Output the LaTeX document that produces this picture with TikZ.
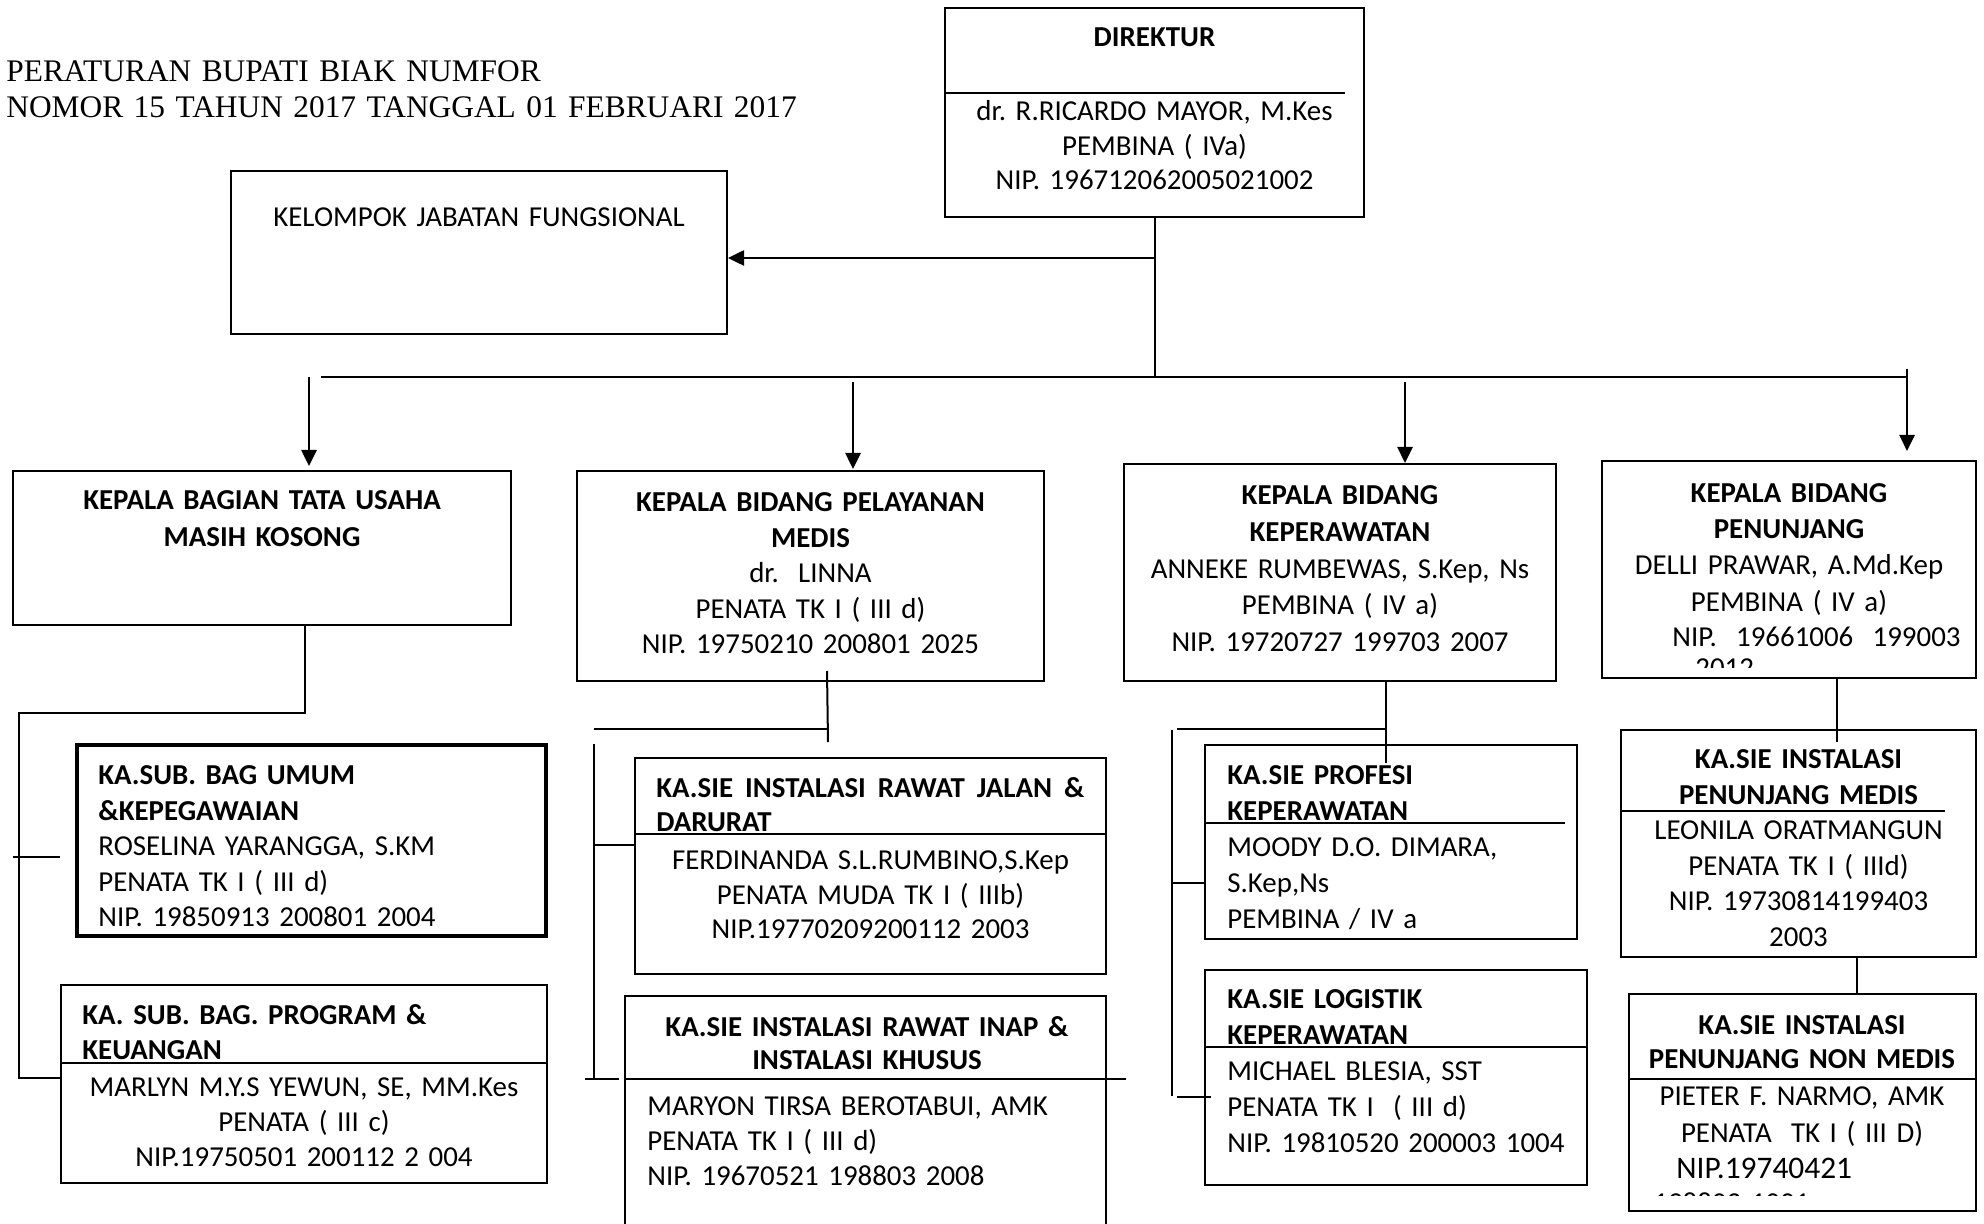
\documentclass[tikz,border=0pt]{standalone}
\usepackage{fontspec}
\setmainfont[WordSpace=0.9]{Carlito}
\newfontfamily\hdrfont{Liberation Serif}
\usetikzlibrary{arrows.meta,fit}
\frenchspacing
\tikzset{
  box/.style={draw, line width=1pt, inner sep=0pt},
  thickbox/.style={draw, line width=2.3pt, inner sep=0pt},
  ln/.style={line width=1pt},
  arr/.style={line width=1.3pt, -{Triangle[width=7.5pt,length=8pt]}},
  txt/.style={inner sep=0pt, font=\fontsize{14.45pt}{#1}\selectfont},
  ctxt/.style={txt=#1, align=center, anchor=base, text width=240pt},
  ltxt/.style={txt=#1, align=left, anchor=base west, text width=240pt},
}
\begin{document}
\frenchspacing
\begin{tikzpicture}[x=0.5pt,y=-0.5pt]
\useasboundingbox (0,0) rectangle (1984,1224);
% header
\node[inner sep=0pt, anchor=base west, align=left, text width=450pt,
      font=\hdrfont\fontsize{15.7pt}{18pt}\selectfont] (hdr) at (6,82)
  {PERATURAN BUPATI BIAK NUMFOR\\NOMOR 15 TAHUN 2017 TANGGAL 01 FEBRUARI 2017};
% boxes
\node[box, fit={(945,8)(1364,217)}] (dir) {};
\node[box, fit={(231,171)(727,334)}] (kjf) {};
\node[box, fit={(12.5,471)(511,625)}] (ktu) {};
\node[box, fit={(577,471)(1044,681)}] (kpm) {};
\node[box, fit={(1124,464)(1556,681)}] (kkp) {};
\node[box, fit={(1602,461)(1976,678)}] (kpn) {};
\node[thickbox, fit={(77,745)(546,936)}] (sbu) {};
\node[box, fit={(61,985)(547,1183)}] (sbp) {};
\node[box, fit={(635,758)(1106,974)}] (rj) {};
\node[box, fit={(625,996)(1106,1228)}] (ri) {};
\node[box, fit={(1205,745)(1577,939)}] (pk) {};
\node[box, fit={(1205,970)(1587,1185)}] (lk) {};
\node[box, fit={(1621,730)(1976,957)}] (pm) {};
\node[box, fit={(1629,994)(1976,1211)}] (pnm) {};
% dividers
\draw[ln] (945,93) -- (1345,93);
\draw[ln] (61,1063) -- (547,1063);
\draw[ln] (635,834) -- (1106,834);
\draw[ln] (625,1079) -- (1126,1079);
\draw[ln] (1205,823) -- (1565,823);
\draw[ln] (1205,1047) -- (1587,1047);
\draw[ln] (1621,811) -- (1945,811);
\draw[ln] (1629,1079) -- (1976,1079);
% texts
\node[ctxt=17pt] (tdir) at (1154.5,46.5) {\textbf{DIREKTUR}};
\node[ctxt=17.25pt] (tdir2) at (1154.5,121) {dr. R.RICARDO MAYOR, M.Kes\\PEMBINA ( IVa)\\NIP. 196712062005021002};
\node[ctxt=17pt] (tkjf) at (479,226.5) {KELOMPOK JABATAN FUNGSIONAL};
\node[ctxt=18.5pt] (tktu) at (262,509.5) {\textbf{KEPALA BAGIAN TATA USAHA}\\\textbf{MASIH KOSONG}};
\node[ctxt=17.75pt] (tkpm) at (810.5,511.5) {\textbf{KEPALA BIDANG PELAYANAN}\\\textbf{MEDIS}\\dr.\ \ LINNA\\PENATA TK I ( III d)\\NIP. 19750210 200801 2025};
\node[ctxt=18.4pt] (tkkp) at (1340,504.5) {\textbf{KEPALA BIDANG}\\\textbf{KEPERAWATAN}\\ANNEKE RUMBEWAS, S.Kep, Ns\\PEMBINA ( IV a)\\NIP. 19720727 199703 2007};
\node[ctxt=18.1pt] (tkpn) at (1789,502.5) {\textbf{KEPALA BIDANG}\\\textbf{PENUNJANG}\\DELLI PRAWAR, A.Md.Kep\\PEMBINA ( IV a)};
\node[ltxt=18pt] (tkpn2) at (1672,646.5) {NIP.\ \ 19661006\ \ 199003};
\begin{scope}
  \clip (1602,461) rectangle (1976,667);
  \node[ltxt=18pt] (tkpn3) at (1695,677.5) {2012};
\end{scope}
\node[ltxt=17.75pt] (tsbu) at (98,784.5) {\textbf{KA.SUB. BAG UMUM}\\\textbf{\&KEPEGAWAIAN}\\ROSELINA YARANGGA, S.KM\\PENATA TK I ( III d)\\NIP. 19850913 200801 2004};
\node[ltxt=17.5pt] (tsbp) at (82,1024.5) {\textbf{KA. SUB. BAG. PROGRAM \&}\\\textbf{KEUANGAN}};
\node[ctxt=17.5pt] (tsbp2) at (304,1096.5) {MARLYN M.Y.S YEWUN, SE, MM.Kes\\PENATA ( III c)\\NIP.19750501 200112 2 004};
\node[ltxt=17pt] (trj) at (656,797.5) {\textbf{\makebox[214pt][l]{KA.SIE\hfill INSTALASI\hfill RAWAT\hfill JALAN\hfill \&}}\\\textbf{DARURAT}};
\node[ctxt=17.25pt] (trj2) at (870.5,869.5) {FERDINANDA S.L.RUMBINO,S.Kep\\PENATA MUDA TK I ( IIIb)\\NIP.19770209200112 2003};
\node[ctxt=16.5pt] (tri) at (867,1036.5) {\textbf{KA.SIE INSTALASI RAWAT INAP \&}\\\textbf{INSTALASI KHUSUS}};
\node[ltxt=17.5pt] (tri2) at (647,1115.5) {MARYON TIRSA BEROTABUI, AMK\\PENATA TK I ( III d)\\NIP. 19670521 198803 2008};
\node[ltxt=18pt] (tpk) at (1227,784.5) {\textbf{KA.SIE PROFESI}\\\textbf{KEPERAWATAN}\\MOODY D.O. DIMARA,\\S.Kep,Ns\\PEMBINA / IV a};
\node[ltxt=18pt] (tlk) at (1227,1008.5) {\textbf{KA.SIE LOGISTIK}\\\textbf{KEPERAWATAN}\\MICHAEL BLESIA, SST\\PENATA TK I\ \ ( III d)\\NIP. 19810520 200003 1004};
\node[ctxt=17.8pt] (tpm) at (1798.5,768.5) {\textbf{KA.SIE INSTALASI}\\\textbf{PENUNJANG MEDIS}\\LEONILA ORATMANGUN\hspace*{10pt}\\PENATA TK I ( IIId)\\NIP. 19730814199403\\2003};
\node[ctxt=17pt] (tpnm) at (1802,1034.5) {\textbf{KA.SIE INSTALASI}\\\textbf{PENUNJANG NON MEDIS}};
\node[ctxt=18.5pt] (tpnm2) at (1802,1105.5) {PIETER F. NARMO, AMK\\PENATA\ \ TK I ( III D)};
\node[inner sep=0pt, anchor=base west, font=\fontsize{15.7pt}{18pt}\selectfont] (tpnm3) at (1676,1178.5) {NIP.19740421};
\begin{scope}
  \clip (1629,994) rectangle (1976,1195);
  \node[ltxt=18pt] (tpnm4) at (1653,1212) {198803 1001};
\end{scope}
% top connectors
\coordinate (bL) at (321,377);
\coordinate (bR) at (1907,377);
\draw[ln] (bL) -- (bR);
\draw[ln] (dir.south) -- (dir.south |- bL);
\coordinate (kj) at (1154.5,258);
\draw[arr] (kj) -- (kj -| kjf.east);
\coordinate (a1) at (309,377);
\coordinate (a2) at (853,382);
\coordinate (a3) at (1405,382);
\coordinate (a4) at (1907,369);
\draw[arr, shorten >=2pt] (a1) -- (a1 |- ktu.north);
\draw[arr, shorten >=0.5pt] (a2) -- (a2 |- kpm.north);
\draw[arr] (a3) -- (a3 |- kkp.north);
\draw[arr, shorten >=4.5pt] (a4) -- (a4 |- kpn.north);
% column 1
\coordinate (c1a) at (305,713);
\coordinate (c1b) at (19,713);
\coordinate (c1c) at (19,1078);
\draw[ln] (ktu.south -| c1a) -- (c1a) -- (c1b) -- (c1c) -- (c1c -| sbp.west);
\coordinate (t1a) at (13,857);
\coordinate (t1b) at (60,857);
\draw[ln] (t1a) -- (t1b);
% column 2
\coordinate (c2a) at (827,671);
\coordinate (c2b) at (828,742);
\draw[ln] (c2a) -- (c2b);
\coordinate (c2h) at (594,729);
\draw[ln] (c2h) -- (c2h -| c2b);
\coordinate (c2v1) at (594,744);
\coordinate (c2v2) at (594,1079);
\draw[ln] (c2v1) -- (c2v2);
\coordinate (t2) at (594,845);
\draw[ln] (t2) -- (t2 -| rj.west);
\coordinate (s2a) at (585,1079);
\coordinate (s2b) at (619,1079);
\draw[ln] (s2a) -- (s2b);
% column 3
\coordinate (c3a) at (1386,763);
\draw[ln] (kkp.south -| c3a) -- (c3a);
\coordinate (c3h) at (1177,729);
\draw[ln] (c3h) -- (c3h -| c3a);
\coordinate (c3v1) at (1172,730);
\coordinate (c3v2) at (1172,1096);
\draw[ln] (c3v1) -- (c3v2);
\coordinate (t3) at (1172,883);
\draw[ln] (t3) -- (t3 -| pk.west);
\coordinate (s3a) at (1177,1097);
\coordinate (s3b) at (1211,1097);
\draw[ln] (s3a) -- (s3b);
% column 4
\coordinate (c4a) at (1837,742);
\draw[ln] (kpn.south -| c4a) -- (c4a);
\coordinate (c4b) at (1857,957);
\draw[ln] (c4b) -- (c4b |- pnm.north);
\end{tikzpicture}
\end{document}
